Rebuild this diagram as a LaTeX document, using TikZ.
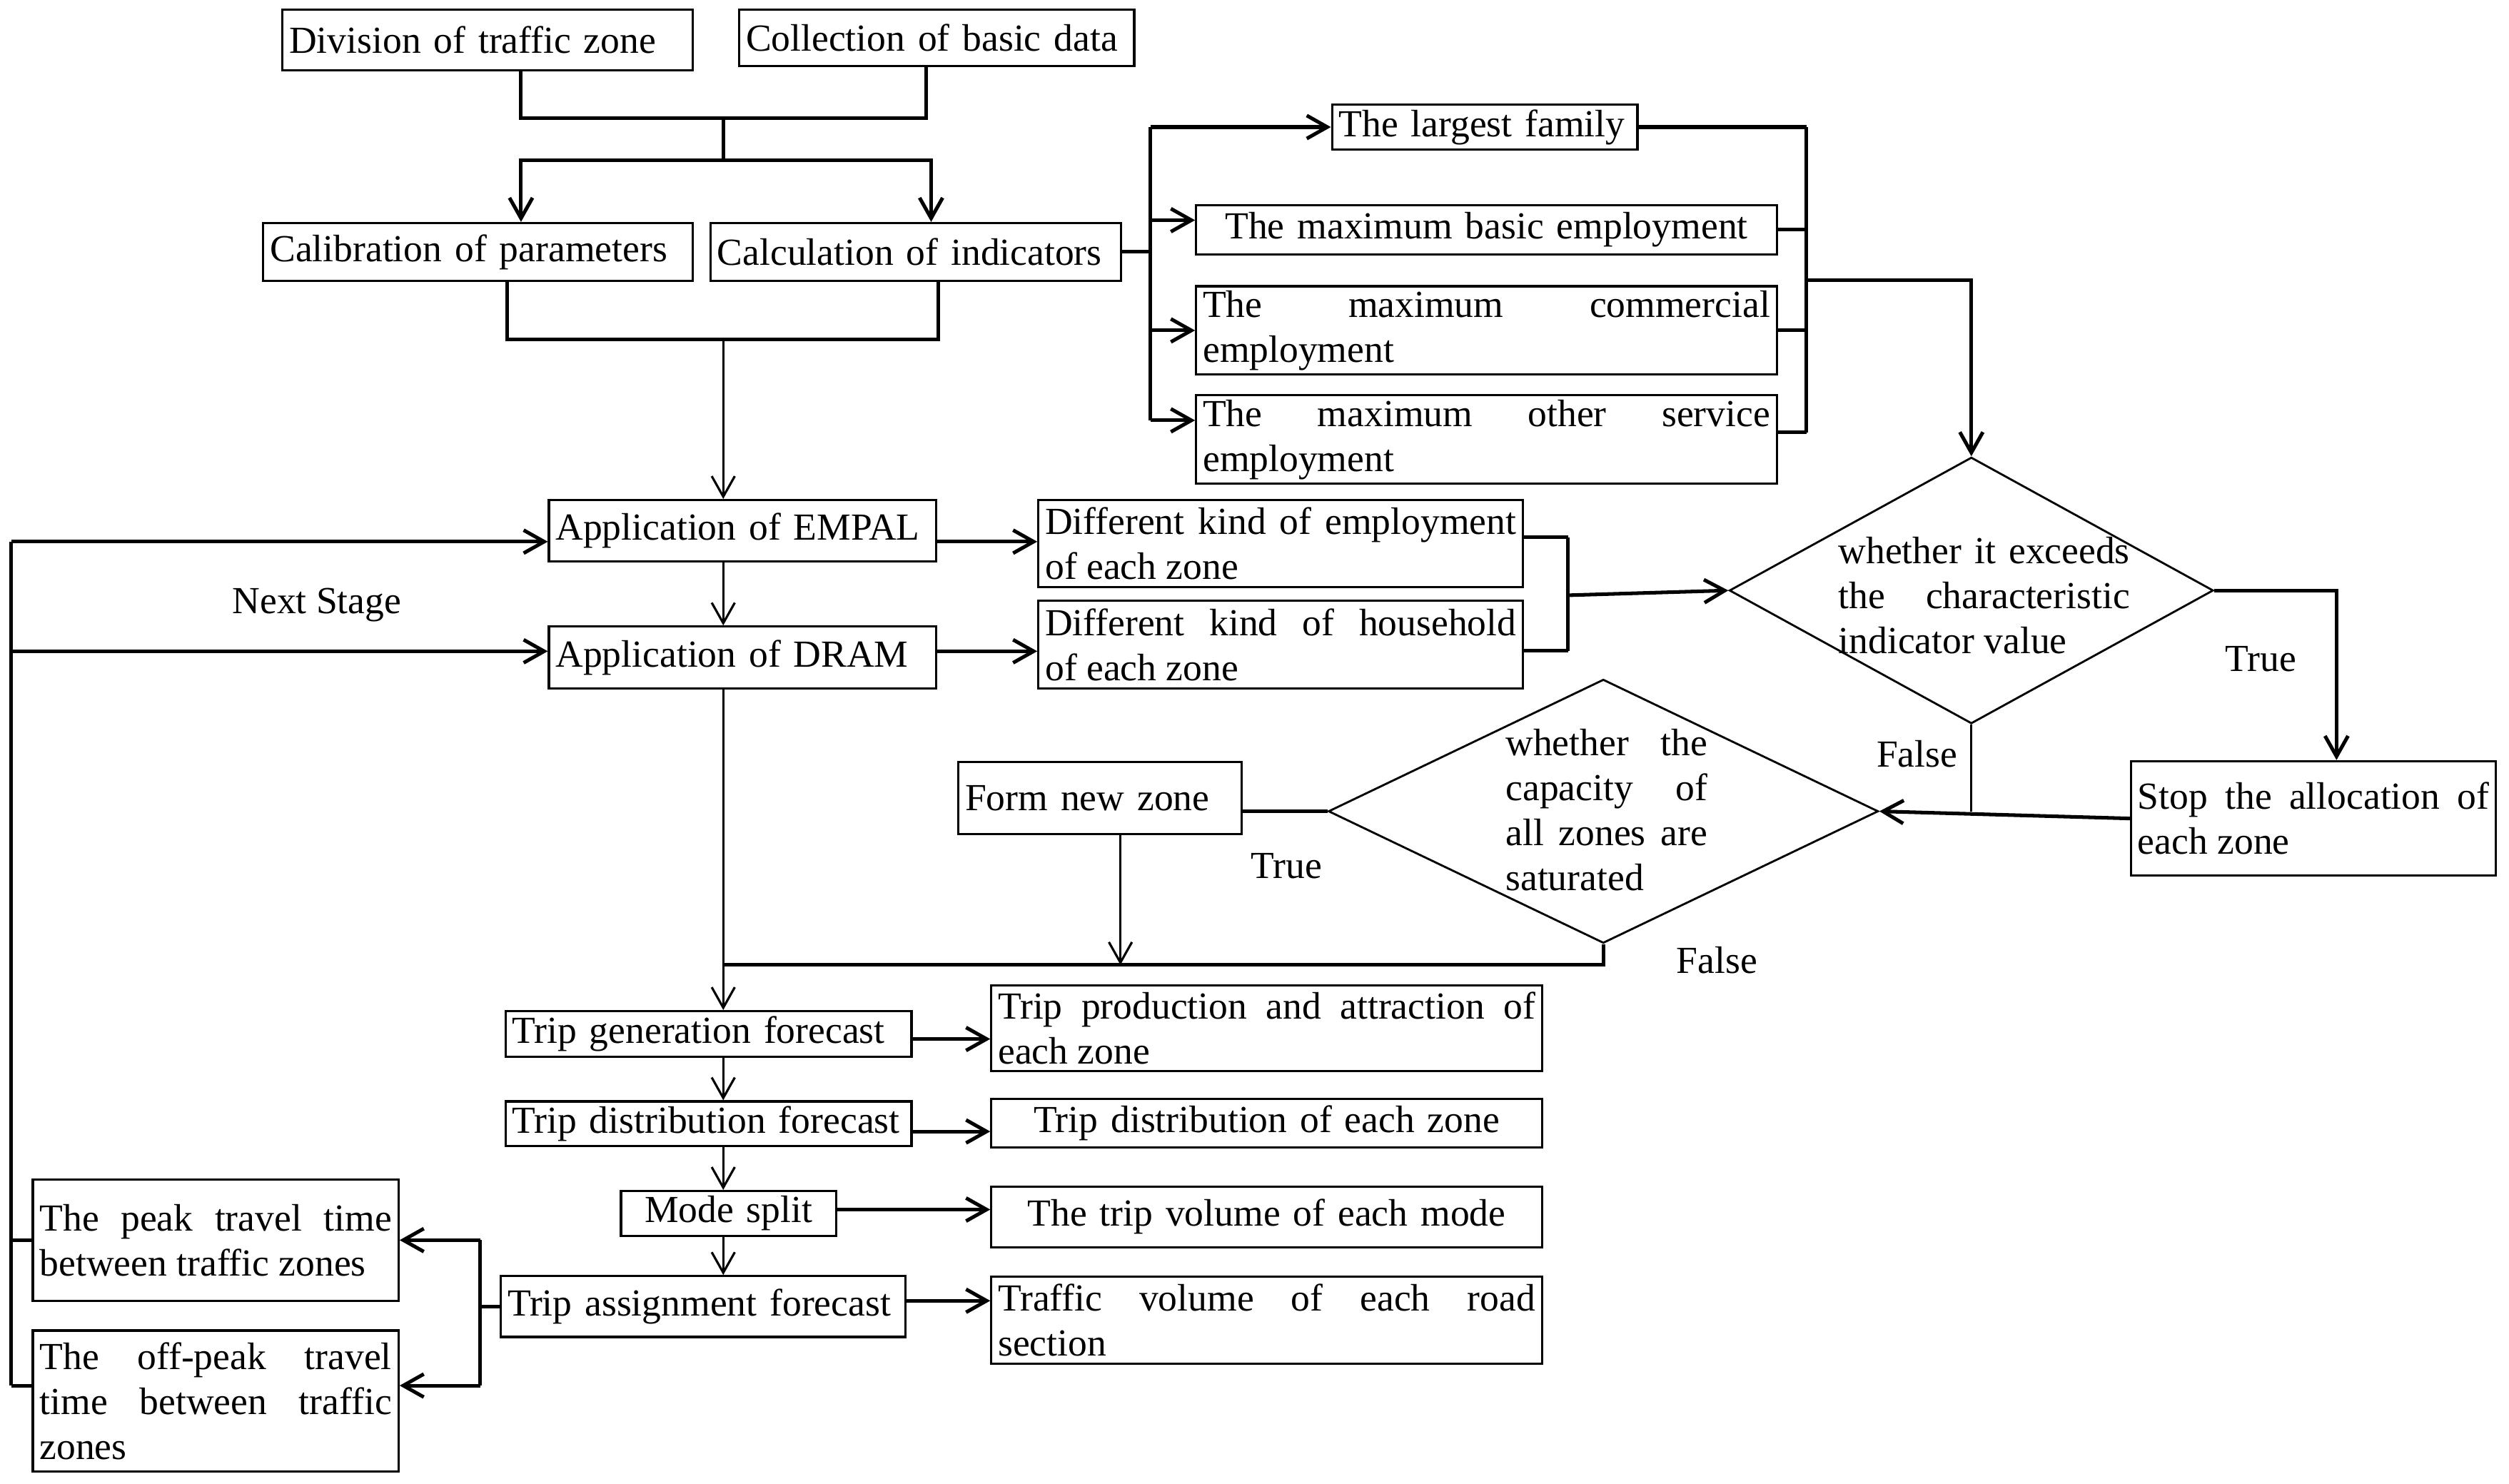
\documentclass[tikz,border=0pt]{standalone}
\usepackage{fontspec}
\setmainfont{Liberation Serif}
\usetikzlibrary{arrows.meta, shapes.geometric}
\newcommand{\fz}{\fontsize{17}{20}\selectfont}

\begin{document}
\begin{tikzpicture}[x=0.025cm, y=-0.025cm,
        blk/.style={draw, line width=1pt, inner xsep=3pt, inner ysep=1pt, font=\fz, align=left},
        jblk/.style={blk, align=justify},
        cblk/.style={blk, align=center},
        dia/.style={diamond, draw, line width=0.9pt, inner sep=0pt},
        lbl/.style={font=\fz},
        con/.style={line width=1.6pt},
        thincon/.style={line width=1pt},
        arr/.style={-{Straight Barb[length=3.2mm,width=3.6mm]}}]
    \useasboundingbox (0,0) rectangle (1568,927);
    \node[blk, text width=6.2cm, minimum height=0.945cm] (div) at (304.8,24.9) {Division of traffic zone};
    \node[blk, text width=5.96cm, minimum height=0.885cm] (col) at (585.4,23.7) {Collection of basic data};
    \node[blk, text width=6.5cm, minimum height=0.9cm] (cal) at (298.8,157.4) {Calibration of parameters};
    \node[blk, text width=6.2cm, minimum height=0.9cm] (calc) at (572.3,157.4) {Calculation of indicators};
    \node[blk, text width=4.56cm, minimum height=0.71cm] (fam) at (927.9,79.4) {The largest family};
    \node[cblk, text width=8.86cm, minimum height=0.77cm] (bas) at (929,143.6) {The maximum basic employment};
    \node[jblk, text width=8.86cm, minimum height=1.38cm] (com) at (929,206.5) {The maximum commercial\linebreak employment};
    \node[jblk, text width=8.86cm, minimum height=1.38cm] (oth) at (929,274.7) {The maximum other service\linebreak employment};
    \node[blk, text width=5.84cm, minimum height=0.96cm] (empal) at (464.1,331.7) {Application of EMPAL};
    \node[blk, text width=5.84cm, minimum height=0.97cm] (dram) at (464.1,411) {Application of DRAM};
    \node[jblk, text width=7.36cm, minimum height=1.36cm] (demp) at (800.4,339.8) {Different kind of employment\linebreak of each zone};
    \node[jblk, text width=7.36cm, minimum height=1.38cm] (dhou) at (800.4,402.8) {Different kind of household\linebreak of each zone};
    \node[dia, minimum width=7.56cm, minimum height=4.16cm] (d1) at (1232,369) {};
    \node[lbl, text width=4.55cm, align=justify] (d1txt) at (1240,372) {whether it exceeds\linebreak the characteristic\linebreak indicator value};
    \node[jblk, text width=5.49cm, minimum height=1.79cm] (stop) at (1445.8,511.5) {Stop the allocation of\linebreak each zone};
    \node[dia, minimum width=8.59cm, minimum height=4.12cm] (d2) at (1002,507) {};
    \node[lbl, text width=3.15cm, align=justify] (d2txt) at (1004,506) {whether the\linebreak capacity of\linebreak all zones are\linebreak saturated};
    \node[blk, text width=4.21cm, minimum height=1.12cm] (fnz) at (687.4,498.7) {Form new zone};
    \node[blk, text width=6.13cm, minimum height=0.71cm] (tgen) at (442.8,646.1) {Trip generation forecast};
    \node[jblk, text width=8.39cm, minimum height=1.34cm] (tpro) at (791.6,642.5) {Trip production and attraction of\linebreak each zone};
    \node[blk, text width=6.13cm, minimum height=0.7cm] (tdis) at (442.8,702.3) {Trip distribution forecast};
    \node[cblk, text width=8.39cm, minimum height=0.76cm] (tdz) at (791.6,702) {Trip distribution of each zone};
    \node[cblk, text width=3.15cm, minimum height=0.7cm] (mode) at (455.3,758.3) {Mode split};
    \node[cblk, text width=8.39cm, minimum height=0.95cm] (tvol) at (791.6,760.5) {The trip volume of each mode};
    \node[blk, text width=6.11cm, minimum height=0.95cm] (tasg) at (439.5,816.5) {Trip assignment forecast};
    \node[jblk, text width=8.39cm, minimum height=1.36cm] (rvol) at (791.6,824.9) {Traffic volume of each road\linebreak section};
    \node[jblk, text width=5.5cm, minimum height=1.9cm] (peak) at (134.8,775) {The peak travel time\linebreak between traffic zones};
    \node[jblk, text width=5.5cm, minimum height=2.2cm] (offp) at (134.8,875.5) {The off-peak travel\linebreak time between traffic\linebreak zones};
    \node[lbl] (next) at (198,378) {Next Stage};
    \node[lbl] (t1) at (1413,412) {True};
    \node[lbl] (f1) at (1198,471) {False};
    \node[lbl] (t2) at (804,541) {True};
    \node[lbl] (f2) at (1073,600) {False};
    \coordinate (jTop) at (452,74);
    \coordinate (jSplit) at (452,100);
    \coordinate (jMid) at (452,212);
    \coordinate (spL) at (719,157);
    \coordinate (spR) at (1129,175);
    \coordinate (spE) at (980,372);
    \coordinate (merge) at (452,603);
    \coordinate (spT) at (300,817);
    \coordinate (back) at (7,600);
    % inputs
    \draw[con] ([xshift=0.52cm]div.south) |- (jTop) -| ([xshift=-0.16cm]col.south);
    \draw[con] (jTop) -- (jSplit);
    \draw[con, arr] (jSplit) -| ([xshift=0.67cm]cal.north);
    \draw[con, arr] (jSplit) -| ([xshift=0.24cm]calc.north);
    \draw[con] ([xshift=0.45cm]cal.south) |- (jMid) -| ([xshift=0.35cm]calc.south);
    \draw[thincon, arr] (jMid) -- (jMid |- empal.north);
    \draw[thincon, arr] (jMid |- empal.south) -- (jMid |- dram.north);
    % indicators
    \draw[con] (calc.east) -- (calc.east -| spL);
    \draw[con] (fam.west -| spL) -- ([yshift=0.3cm]oth.west -| spL);
    \draw[con, arr] (fam.west -| spL) -- (fam.west);
    \draw[con, arr] ([yshift=0.15cm]bas.west -| spL) -- ([yshift=0.15cm]bas.west);
    \draw[con, arr] (com.west -| spL) -- (com.west);
    \draw[con, arr] ([yshift=0.3cm]oth.west -| spL) -- ([yshift=0.3cm]oth.west);
    \draw[con] (fam.east) -- (fam.east -| spR);
    \draw[con] (bas.east) -- (bas.east -| spR);
    \draw[con] (com.east) -- (com.east -| spR);
    \draw[con] ([yshift=0.11cm]oth.east) -- ([yshift=0.11cm]oth.east -| spR);
    \draw[con] (fam.east -| spR) -- ([yshift=0.11cm]oth.east -| spR);
    \draw[con, arr] (spR) -| (d1.north);
    % EMPAL and DRAM
    \draw[con, arr] ([yshift=-0.17cm]empal.east) -- ([yshift=-0.17cm]empal.east -| demp.west);
    \draw[con, arr] ([yshift=0.1cm]dram.east) -- ([yshift=0.1cm]dram.east -| dhou.west);
    \draw[con] ([yshift=0.1cm]demp.east) -- ([yshift=0.1cm]demp.east -| spE);
    \draw[con] ([yshift=-0.1cm]dhou.east) -- ([yshift=-0.1cm]dhou.east -| spE);
    \draw[con] ([yshift=0.1cm]demp.east -| spE) -- ([yshift=-0.1cm]dhou.east -| spE);
    \draw[con, arr] (spE) -- (d1.west);
    % checks
    \draw[con, arr] (d1.east) -| ([xshift=0.36cm]stop.north);
    \draw[thincon] (d1.south) -- (d1.south |- d2.east);
    \draw[con, arr] (stop.west) -- (d2.east);
    \draw[con] (d2.west) -- (d2.west -| fnz.east);
    \draw[thincon, arr] ([xshift=0.32cm]fnz.south) -- ([xshift=0.32cm]fnz.south |- merge);
    \draw[con] (d2.south) |- (merge);
    \draw[thincon, arr] (jMid |- dram.south) -- (jMid |- tgen.north);
    % four-step model
    \draw[thincon, arr] (jMid |- tgen.south) -- (jMid |- tdis.north);
    \draw[thincon, arr] (jMid |- tdis.south) -- (jMid |- mode.north);
    \draw[thincon, arr] (jMid |- mode.south) -- (jMid |- tasg.north);
    \draw[con, arr] ([yshift=-0.08cm]tgen.east) -- ([yshift=-0.08cm]tgen.east -| tpro.west);
    \draw[con, arr] ([yshift=-0.12cm]tdis.east) -- ([yshift=-0.12cm]tdis.east -| tdz.west);
    \draw[con, arr] ([yshift=0.06cm]mode.east) -- ([yshift=0.06cm]mode.east -| tvol.west);
    \draw[con, arr] ([yshift=0.09cm]tasg.east) -- ([yshift=0.09cm]tasg.east -| rvol.west);
    \draw[con] (tasg.west) -- (tasg.west -| spT);
    \draw[con] (peak.east -| spT) -- ([yshift=0.24cm]offp.east -| spT);
    \draw[con, arr] (peak.east -| spT) -- (peak.east);
    \draw[con, arr] ([yshift=0.24cm]offp.east -| spT) -- ([yshift=0.24cm]offp.east);
    % next stage
    \draw[con] (peak.west) -- (peak.west -| back);
    \draw[con] ([yshift=0.24cm]offp.west) -- ([yshift=0.24cm]offp.west -| back);
    \draw[con] ([yshift=0.24cm]offp.west -| back) -- ([yshift=-0.17cm]empal.west -| back);
    \draw[con, arr] ([yshift=-0.17cm]empal.west -| back) -- ([yshift=-0.17cm]empal.west);
    \draw[con, arr] ([yshift=0.1cm]dram.west -| back) -- ([yshift=0.1cm]dram.west);
\end{tikzpicture}
\end{document}
